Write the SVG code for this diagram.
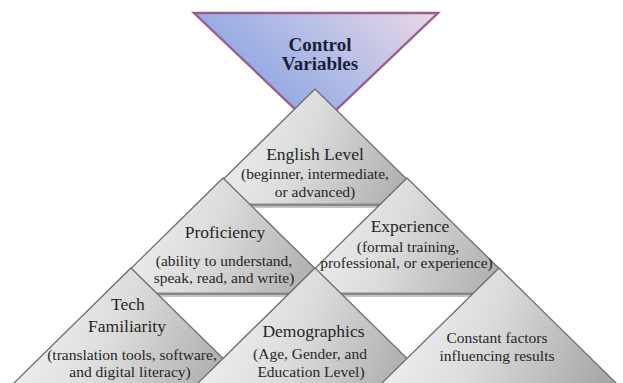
<svg xmlns="http://www.w3.org/2000/svg" width="623" height="383" viewBox="0 0 623 383">
  <defs>
    <linearGradient id="grayFill" x1="0" y1="0.4" x2="1" y2="0.6">
      <stop offset="0" stop-color="#f3f3f3"/>
      <stop offset="0.45" stop-color="#dcdcdc"/>
      <stop offset="1" stop-color="#a9a9a9"/>
    </linearGradient>
    <linearGradient id="topFill" x1="0.05" y1="0.6" x2="1" y2="0.1">
      <stop offset="0" stop-color="#84a0e2"/>
      <stop offset="0.5" stop-color="#b3bce6"/>
      <stop offset="1" stop-color="#e6d6e6"/>
    </linearGradient>
  </defs>
  <style>
    .tri { fill: url(#grayFill); stroke: #6f6f6f; stroke-width: 1.3; stroke-linejoin: miter; }
    .shelf { stroke: #878787; stroke-width: 3; }
    .shade { stroke: #c4c4c4; stroke-width: 1; }
    text { font-family: 'Liberation Serif', Tinos, 'Times New Roman', 'DejaVu Serif', serif; fill: #262626; text-anchor: middle; }
    .head { font-size: 17.5px; }
    .desc { font-size: 15.5px; }
    .title { font-size: 19px; font-weight: bold; fill: #1c1f3a; }
  </style>

  <rect width="623" height="383" fill="#ffffff"/>

  <!-- Inverted header triangle -->
  <g id="control-variables">
    <polygon points="194,13 438,13 316,129" fill="url(#topFill)" stroke="#9c5d8c" stroke-width="2.4" stroke-linejoin="miter"/>
    <text class="title" x="320" y="51">Control</text>
    <text class="title" x="320" y="69.5">Variables</text>
  </g>

  <!-- Row 1 -->
  <g id="english-level">
    <polygon class="tri" points="315,89 433,205 197,205"/>
    <line class="shelf" x1="198" y1="205" x2="432" y2="205"/>
    <line class="shade" x1="198" y1="207.5" x2="432" y2="207.5"/>
    <text class="head" x="315" y="159.5">English Level</text>
    <text class="desc" x="315" y="179">(beginner, intermediate,</text>
    <text class="desc" x="315" y="196.5">or advanced)</text>
  </g>

  <!-- Row 2 -->
  <g id="proficiency">
    <polygon class="tri" points="223,178 341,294 105,294"/>
    <line class="shelf" x1="106" y1="294" x2="340" y2="294"/>
    <line class="shade" x1="106" y1="296.5" x2="340" y2="296.5"/>
    <text class="head" x="225" y="238">Proficiency</text>
    <text class="desc" x="224" y="265.5">(ability to understand,</text>
    <text class="desc" x="224" y="282.5">speak, read, and write)</text>
  </g>

  <g id="experience">
    <polygon class="tri" points="407,178 525,294 289,294"/>
    <line class="shelf" x1="290" y1="294" x2="524" y2="294"/>
    <line class="shade" x1="290" y1="296.5" x2="524" y2="296.5"/>
    <text class="head" x="410" y="232">Experience</text>
    <text class="desc" x="408" y="251.5">(formal training,</text>
    <text class="desc" x="406.5" y="268">professional, or experience)</text>
  </g>

  <!-- Row 3 -->
  <g id="tech-familiarity">
    <polygon class="tri" points="131,268 249,384 13,384"/>
    <text class="head" x="128" y="310">Tech</text>
    <text class="head" x="127" y="332">Familiarity</text>
    <text class="desc" x="132" y="360">(translation tools, software,</text>
    <text class="desc" x="130" y="377">and digital literacy)</text>
  </g>

  <g id="demographics">
    <polygon class="tri" points="315,268 433,384 197,384"/>
    <text class="head" x="313.5" y="337">Demographics</text>
    <text class="desc" x="310" y="359">(Age, Gender, and</text>
    <text class="desc" x="311" y="376.5">Education Level)</text>
  </g>

  <g id="constant-factors">
    <polygon class="tri" points="499,268 617,384 381,384"/>
    <text class="desc" x="497" y="343">Constant factors</text>
    <text class="desc" x="497" y="360.5">influencing results</text>
  </g>

  <!-- No separate connectors: the tiers touch edge to edge -->
  <g id="connectors"/>
</svg>
